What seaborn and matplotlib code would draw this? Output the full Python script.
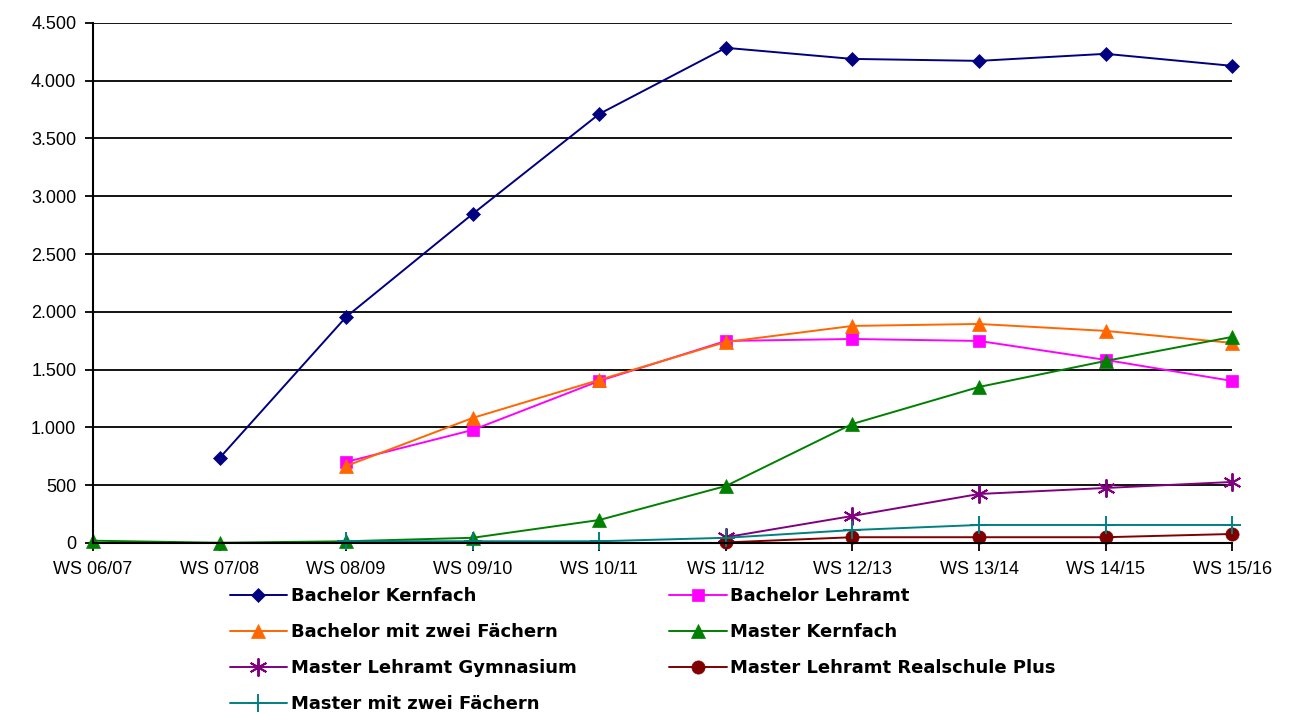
import numpy as np
import pandas as pd
import matplotlib
matplotlib.use("Agg")
import matplotlib.pyplot as plt
import matplotlib.ticker as mticker
import seaborn as sns

categories = ["WS 06/07", "WS 07/08", "WS 08/09", "WS 09/10", "WS 10/11",
              "WS 11/12", "WS 12/13", "WS 13/14", "WS 14/15", "WS 15/16"]
nan = np.nan
bachelor_kernfach = [nan, 735, 1956, 2847, 3712, 4284, 4188, 4171, 4232, 4128]
bachelor_lehramt = [nan, nan, 701, 978, 1402, 1748, 1765, 1748, 1584, 1402]
bachelor_zwei = [nan, nan, 666, 1082, 1411, 1739, 1878, 1895, 1835, 1731]
master_kernfach = [20, 2, 15, 45, 199, 493, 1030, 1350, 1575, 1783]
master_gym = [nan, nan, nan, nan, nan, 50, 234, 424, 476, 528]
master_rs = [nan, nan, nan, nan, nan, 5, 50, 50, 50, 78]
master_zwei = [nan, nan, 15, 15, 15, 45, 112, 156, 156, 156]

series = {
    "Bachelor Kernfach": bachelor_kernfach,
    "Bachelor Lehramt": bachelor_lehramt,
    "Bachelor mit zwei Fächern": bachelor_zwei,
    "Master Kernfach": master_kernfach,
    "Master Lehramt Gymnasium": master_gym,
    "Master Lehramt Realschule Plus": master_rs,
    "Master mit zwei Fächern": master_zwei,
}
colors = {
    "Bachelor Kernfach": "#000080",
    "Bachelor Lehramt": "#FF00FF",
    "Bachelor mit zwei Fächern": "#FF6600",
    "Master Kernfach": "#008000",
    "Master Lehramt Gymnasium": "#800080",
    "Master Lehramt Realschule Plus": "#800000",
    "Master mit zwei Fächern": "#008080",
}
markers = {
    "Bachelor Kernfach": "D",
    "Bachelor Lehramt": "s",
    "Bachelor mit zwei Fächern": "^",
    "Master Kernfach": "^",
    "Master Lehramt Gymnasium": (6, 2, 0),
    "Master Lehramt Realschule Plus": "o",
    "Master mit zwei Fächern": "+",
}
msize = {
    "Bachelor Kernfach": 7,
    "Bachelor Lehramt": 8.5,
    "Bachelor mit zwei Fächern": 10,
    "Master Kernfach": 10,
    "Master Lehramt Gymnasium": 13,
    "Master Lehramt Realschule Plus": 9.5,
    "Master mit zwei Fächern": 13,
}

rows = []
for name, vals in series.items():
    for i, v in enumerate(vals):
        rows.append({"Semester": i, "Wert": v, "Studiengang": name})
df = pd.DataFrame(rows).dropna()

sns.set_theme(style="white")
plt.rcParams['font.family'] = ['Liberation Sans', 'DejaVu Sans']
plt.rcParams['text.color'] = 'black'

fig = plt.figure(figsize=(12.97, 7.14), dpi=100)
ax = fig.add_axes([0.0717, 0.2395, 0.8783, 0.7285])

handles = {}
for name in series:
    sub = df[df["Studiengang"] == name]
    m = markers[name]
    thin = (m == "+") or not isinstance(m, str)
    sns.lineplot(data=sub, x="Semester", y="Wert", ax=ax, color=colors[name],
                 marker=m, markersize=msize[name], linewidth=1.4,
                 markeredgecolor=colors[name],
                 markeredgewidth=1.4 if thin else 0.5,
                 label=name, legend=False, clip_on=False)
    handles[name] = ax.lines[-1]

ax.set_xlim(0, len(categories) - 1)
ax.set_ylim(0, 4500)
ax.set_xticks(range(len(categories)))
ax.set_xticklabels(categories)
ax.yaxis.set_major_locator(mticker.MultipleLocator(500))
ax.yaxis.set_major_formatter(mticker.FuncFormatter(lambda v, p: f"{int(v):,}".replace(",", ".")))
ax.grid(axis="y", color="black", linewidth=1.3)
ax.set_axisbelow(True)
ax.set_xlabel("")
ax.set_ylabel("")
for s in ["top", "right"]:
    ax.spines[s].set_visible(False)
for s in ["left", "bottom"]:
    ax.spines[s].set_color("black")
    ax.spines[s].set_linewidth(1.5)
ax.tick_params(axis="both", which="major", direction="out", length=6, width=1.3,
               color="black", labelsize=13, labelcolor="black", pad=6,
               bottom=True, left=True)
ax.tick_params(axis="x", pad=7)

order = ["Bachelor Kernfach", "Bachelor mit zwei Fächern", "Master Lehramt Gymnasium",
         "Master mit zwei Fächern", "Bachelor Lehramt", "Master Kernfach",
         "Master Lehramt Realschule Plus"]
leg = fig.legend([handles[n] for n in order], order, ncol=2, loc="upper left",
                 bbox_to_anchor=(0.177, 0.178), frameon=False,
                 prop={"weight": "bold", "size": 13, "family": "DejaVu Sans"},
                 handlelength=3.2, handletextpad=0.2, columnspacing=5.1,
                 labelspacing=1.0, borderaxespad=0, borderpad=0)
for t in leg.get_texts():
    t.set_color("black")

fig.savefig("out.png", dpi=100)
